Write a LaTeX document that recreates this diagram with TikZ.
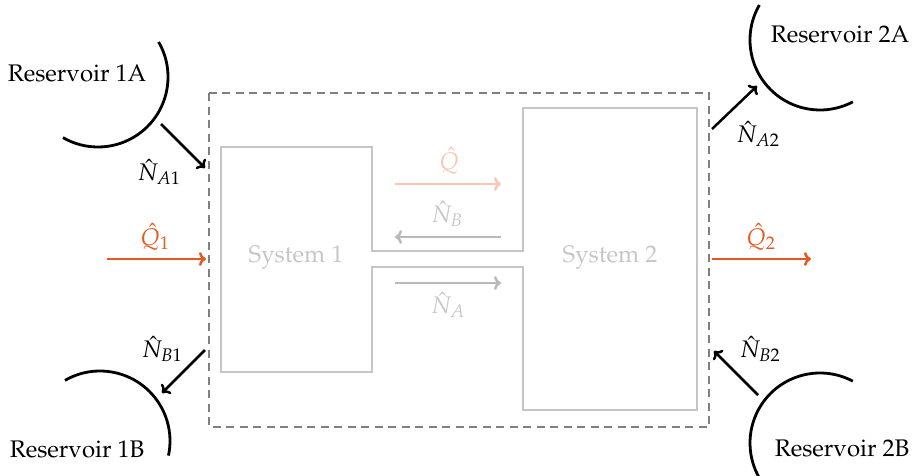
\documentclass[tikz,border=0pt]{standalone}
\usepackage[T1]{fontenc}
\usepackage{mathpazo}
\usetikzlibrary{arrows.meta}
\definecolor{orng}{RGB}{228,90,34}
\definecolor{peach}{RGB}{246,200,180}
\definecolor{lgray}{RGB}{198,198,198}
\definecolor{agray}{RGB}{185,185,185}
\definecolor{dgray}{RGB}{128,128,128}
\begin{document}
\begin{tikzpicture}[x=1pt,y=-1pt,
  lbl/.style={font=\fontsize{24}{28}\selectfont, inner sep=0pt},
  resarc/.style={line width=2.8pt, black},
  flowarr/.style={line width=2.5pt, -{To[length=7pt,width=14pt]}},
  sysline/.style={line width=2.2pt, lgray}]
\useasboundingbox (0,0) rectangle (914,475);
% boundary
\draw[dgray, line width=1.8pt, dash pattern=on 8pt off 5.5pt] (209,93) rectangle (709,427);
% systems outline
\draw[sysline] (221,147) -- (372,147) -- (372,251) -- (523,251) -- (523,108) -- (697,108)
  -- (697,410) -- (523,410) -- (523,267) -- (372,267) -- (372,372) -- (221,372) -- cycle;
\node[lbl, text=lgray] (s1) at (296,258) {System 1};
\node[lbl, text=lgray] (s2) at (610,258) {System 2};
% internal arrows
\coordinate (qa) at (395,184); \coordinate (qb) at (501,184);
\coordinate (nba) at (501,237); \coordinate (nbb) at (395,237);
\coordinate (naa) at (395,283); \coordinate (nab) at (501,283);
\draw[flowarr, peach] (qa) -- (qb);
\draw[flowarr, agray] (nba) -- (nbb);
\draw[flowarr, agray] (naa) -- (nab);
\node[lbl, text=peach] (lq) at (449,161) {$\hat{Q}$};
\node[lbl, text=lgray] (lnb) at (447,214) {$\hat{N}_B$};
\node[lbl, text=lgray] (lna) at (448,305) {$\hat{N}_A$};
% heat arrows
\coordinate (q1a) at (107,259); \coordinate (q1b) at (206,259);
\coordinate (q2a) at (712,259); \coordinate (q2b) at (811,259);
\draw[flowarr, orng] (q1a) -- (q1b);
\draw[flowarr, orng] (q2a) -- (q2b);
\node[lbl, text=orng] (lq1) at (155,237) {$\hat{Q}_1$};
\node[lbl, text=orng] (lq2) at (761,237) {$\hat{Q}_2$};
% reservoirs
\draw[resarc] (98,77) ++(30:70pt) arc[start angle=30, end angle=-120, radius=70pt];
\draw[resarc] (100,441) ++(120:70pt) arc[start angle=120, end angle=-12, radius=70pt];
\draw[resarc] (820,40) ++(150:70pt) arc[start angle=150, end angle=298, radius=70pt];
\draw[resarc] (820,443) ++(62:70pt) arc[start angle=62, end angle=210, radius=70pt];
\node[lbl] (r1a) at (77,73) {Reservoir 1A};
\node[lbl] (r1b) at (77,449) {Reservoir 1B};
\node[lbl] (r2a) at (840,34) {Reservoir 2A};
\node[lbl] (r2b) at (842,448) {Reservoir 2B};
% particle arrows
\coordinate (a1s) at (161,124); \coordinate (a1e) at (205,168);
\coordinate (b1s) at (205,350); \coordinate (b1e) at (162,393);
\coordinate (a2s) at (712,129); \coordinate (a2e) at (757,86);
\coordinate (b2s) at (758,395); \coordinate (b2e) at (714,351);
\draw[flowarr, black] (a1s) -- (a1e);
\draw[flowarr, black] (b1s) -- (b1e);
\draw[flowarr, black] (a2s) -- (a2e);
\draw[flowarr, black] (b2s) -- (b2e);
\node[lbl] (la1) at (159,172) {$\hat{N}_{A1}$};
\node[lbl] (lb1) at (162,349) {$\hat{N}_{B1}$};
\node[lbl] (la2) at (758,134) {$\hat{N}_{A2}$};
\node[lbl] (lb2) at (760,349) {$\hat{N}_{B2}$};
\end{tikzpicture}
\end{document}
